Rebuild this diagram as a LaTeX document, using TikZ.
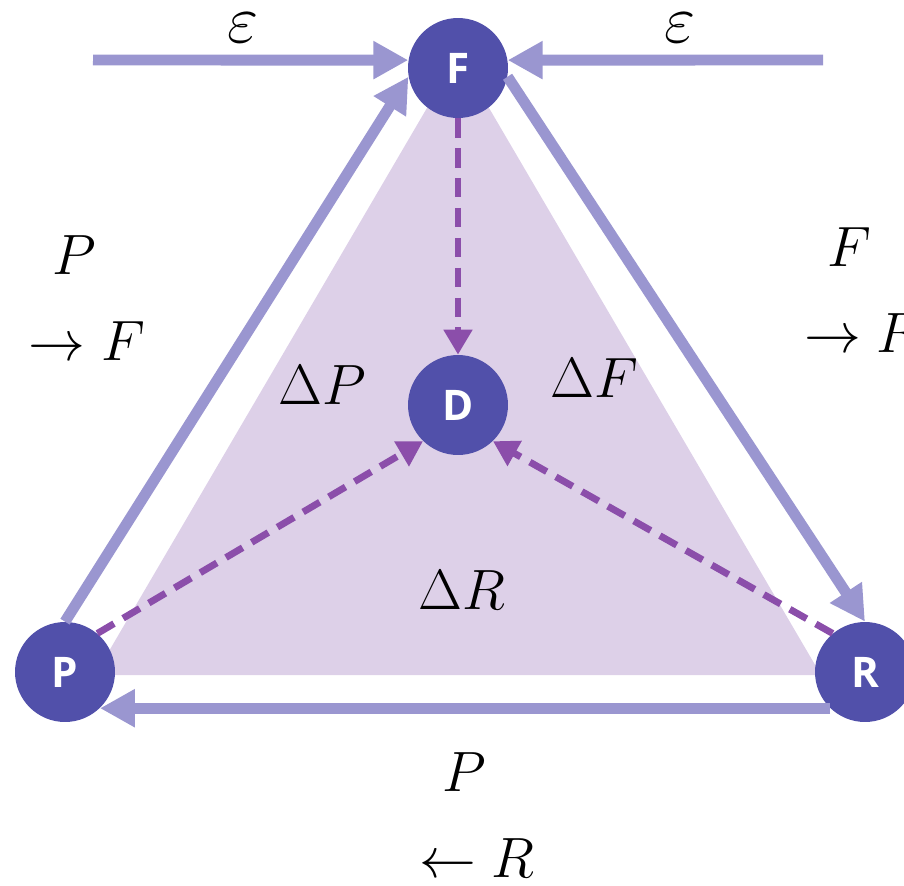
\documentclass[tikz,border=0pt]{standalone}
\usepackage{amsmath,amssymb}
\usepackage{xcolor}
\usepackage{fontspec}
\setsansfont{Open Sans}
\usetikzlibrary{arrows.meta}
\definecolor{nodeblue}{HTML}{5150AA}
\definecolor{flowlav}{HTML}{9A96D0}
\definecolor{fillmauve}{HTML}{DDD0E8}
\definecolor{dashpurple}{HTML}{8B4EAA}

\begin{document}
\begin{tikzpicture}[x=0.02cm, y=-0.02cm,
  font=\fontsize{24.88}{38}\selectfont,
  st/.style={circle, fill=nodeblue, text=white, minimum size=2cm, inner sep=0pt,
    font=\sffamily\bfseries\fontsize{24}{28}\selectfont},
  flow/.style={-{Triangle[length=7mm, width=7.2mm]}, draw=flowlav, line width=6.2pt},
  diff/.style={-{Triangle[length=5mm, width=5.5mm]}, draw=dashpurple, line width=3.9pt,
    dash pattern=on 11pt off 6pt},
  lbl/.style={align=center, inner sep=0pt, scale=1.3},
  eps/.style={inner sep=0pt, scale=1.55}]
\useasboundingbox (0,0) rectangle (904,886);
\fill[fillmauve] (458,55) -- (95,675) -- (821,675) -- cycle;
\node[st] (F) at (458,68) {F};
\node[st] (D) at (458,405) {D};
\node[st] (P) at (65,672) {P};
\node[st] (R) at (865,672) {R};
\coordinate (inl) at (93,60);
\coordinate (inr) at (823,60);
% inputs and the outer loop
\draw[flow] (inl) -- (F.171);
\draw[flow] (inr) -- (F.9);
\draw[flow] (P.north) -- (F.190);
\draw[flow] (F.-10) -- (R.north);
\draw[flow] (R.226) -- (P.-46);
% differences into D
\draw[diff] (F.south) -- (D.north);
\draw[diff] (P.50) -- (D.226);
\draw[diff] (R.130) -- (D.-46);
\node[eps] (eps1) at (243,28) {$\varepsilon$};
\node[eps] (eps2) at (680,28) {$\varepsilon$};
\node[lbl] (pf) at (87,298) {$P$\hspace*{0.4cm}\\$\rightarrow F$};
\node[lbl] (fr) at (862,290) {$F$\hspace*{0.4cm}\\$\rightarrow R$};
\node[lbl] (pr) at (477,815) {$P$\hspace*{0.4cm}\\$\leftarrow R$};
\node[lbl] (dp) at (322,385) {$\Delta P$};
\node[lbl] (df) at (594,378) {$\Delta F$};
\node[lbl] (dr) at (462,590) {$\Delta R$};
\end{tikzpicture}
\end{document}
